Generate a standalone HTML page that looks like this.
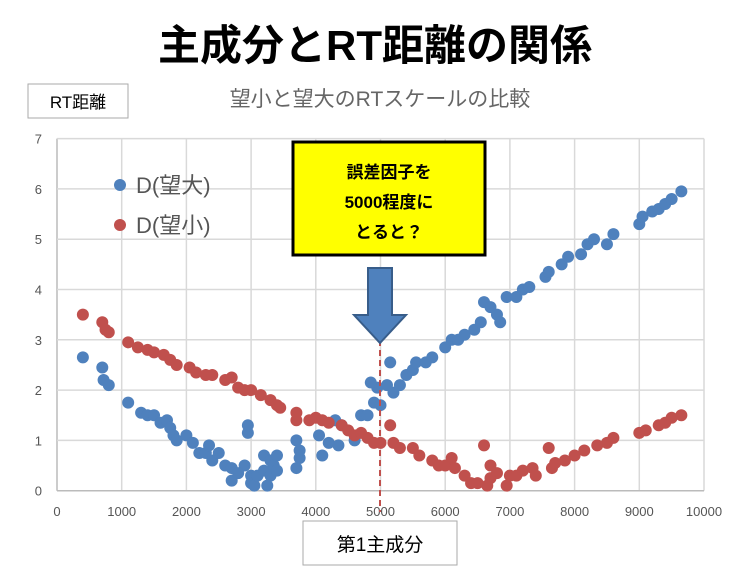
<!DOCTYPE html>
<html><head><meta charset="utf-8"><style>
body{margin:0;background:#fff;width:749px;height:574px;overflow:hidden;font-family:"Liberation Sans","Noto Sans CJK JP",sans-serif}
</style></head><body>
<svg width="749" height="574" xmlns="http://www.w3.org/2000/svg" font-family="Liberation Sans, Noto Sans CJK JP, sans-serif">
<text x="375" y="60" font-size="42" font-weight="bold" text-anchor="middle" fill="#000">主成分とRT距離の関係</text>
<rect x="28" y="84" width="100" height="34" fill="#fff" stroke="#aaa"/>
<text x="78" y="108" font-size="17" text-anchor="middle">RT距離</text>
<text x="380" y="106" font-size="21" text-anchor="middle" fill="#666">望小と望大のRTスケールの比較</text>
<g id="grid"></g>
<g id="marks"></g>
<g>
<circle cx="120" cy="185" r="6" fill="#4F81BD"/><text x="136" y="193" font-size="22" fill="#555">D(望大)</text>
<circle cx="120" cy="225" r="6" fill="#C0504D"/><text x="136" y="233" font-size="22" fill="#555">D(望小)</text>
</g>
<line x1="380" y1="340" x2="380" y2="512" stroke="#C0504D" stroke-width="2" stroke-dasharray="6,4"/>
<rect x="293" y="142" width="192" height="113" fill="#FFFF00" stroke="#000" stroke-width="3"/>
<text x="389" y="178" font-size="17" font-weight="bold" text-anchor="middle">誤差因子を</text>
<text x="389" y="208" font-size="17" font-weight="bold" text-anchor="middle">5000程度に</text>
<text x="389" y="238" font-size="17" font-weight="bold" text-anchor="middle">とると？</text>
<path d="M368,268 H392 V315 H406 L380,343 L354,315 H368 Z" fill="#4F81BD" stroke="#385D8A" stroke-width="2"/>
<rect x="303" y="521" width="154" height="44" fill="#fff" stroke="#aaa"/>
<text x="380" y="551" font-size="19" text-anchor="middle">第1主成分</text>
</svg>
<script>
const xTicks=[0,1000,2000,3000,4000,5000,6000,7000,8000,9000,10000];
const yTicks=[0,1,2,3,4,5,6,7];
const bigX=[400,700,720,800,1100,1300,1400,1500,1600,1700,1750,1800,1850,2000,2100,2200,2300,2350,2400,2500,2600,2700,2700,2900,2800,3000,3000,3050,3100,3200,2950,2950,3200,3300,3300,3350,3400,3400,3250,3700,3700,3750,3750,4050,4100,4200,4350,4300,4400,4600,4700,4800,4900,4950,4850,5000,5100,5200,5150,5300,5400,5500,5550,5700,5800,6000,6100,6200,6300,6450,6550,6600,6700,6800,6850,6950,7100,7200,7300,7550,7600,7800,7900,8100,8200,8300,8500,8600,9000,9050,9200,9300,9400,9500,9650];
const bigY=[2.65,2.45,2.2,2.1,1.75,1.55,1.5,1.5,1.35,1.4,1.25,1.1,1.0,1.1,0.95,0.75,0.75,0.9,0.6,0.75,0.5,0.45,0.2,0.5,0.35,0.3,0.15,0.1,0.3,0.4,1.15,1.3,0.7,0.6,0.3,0.5,0.7,0.4,0.1,1.0,0.45,0.65,0.8,1.1,0.7,0.95,0.9,1.4,1.3,1.0,1.5,1.5,1.75,2.05,2.15,1.7,2.1,1.95,2.55,2.1,2.3,2.4,2.55,2.55,2.65,2.85,3.0,3.0,3.1,3.2,3.35,3.75,3.65,3.5,3.35,3.85,3.85,4.0,4.05,4.25,4.35,4.5,4.65,4.7,4.9,5.0,4.9,5.1,5.3,5.45,5.55,5.6,5.7,5.8,5.95];
const smallX=[400,700,750,800,1100,1250,1400,1500,1650,1750,1850,2050,2150,2300,2400,2600,2700,2800,2900,3000,3150,3300,3400,3450,3700,3700,3900,4000,4100,4200,4400,4500,4600,4700,4800,4900,5000,5150,5200,5300,5500,5600,5800,5900,6000,6100,6150,6300,6400,6500,6650,6600,6700,6800,6700,6950,7000,7100,7200,7350,7400,7600,7650,7700,7850,8000,8150,8350,8500,8600,9000,9100,9300,9400,9500,9650];
const smallY=[3.5,3.35,3.2,3.15,2.95,2.85,2.8,2.75,2.7,2.6,2.5,2.45,2.35,2.3,2.3,2.2,2.25,2.05,2.0,2.0,1.9,1.8,1.7,1.65,1.55,1.4,1.4,1.45,1.4,1.35,1.3,1.2,1.1,1.15,1.05,0.95,0.95,1.3,0.95,0.85,0.85,0.7,0.6,0.5,0.5,0.65,0.45,0.3,0.15,0.15,0.1,0.9,0.25,0.35,0.5,0.1,0.3,0.3,0.4,0.45,0.3,0.85,0.45,0.55,0.6,0.7,0.8,0.9,0.95,1.05,1.15,1.2,1.3,1.35,1.45,1.5];
const NS='http://www.w3.org/2000/svg';
const sx=v=>57+v*0.0647;
const sy=v=>490.7-v*50.3;
const grid=document.getElementById('grid'),marks=document.getElementById('marks');
function mk(tag,a,p){const e=document.createElementNS(NS,tag);for(const k in a)e.setAttribute(k,a[k]);p.appendChild(e);return e;}
xTicks.forEach(t=>{
 const l=mk('line',{x1:sx(t),x2:sx(t),y1:sy(7),y2:sy(0),stroke:t===0?'#bbb':'#d9d9d9','stroke-width':1.5},grid);
 
 
 const tx=mk('text',{x:sx(t),y:516,'font-size':13,'text-anchor':'middle',fill:'#555'},grid);tx.textContent=t;
 
 
});
yTicks.forEach(t=>{
 const l=mk('line',{x1:sx(0),x2:sx(10000),y1:sy(t),y2:sy(t),stroke:t===0?'#bbb':'#d9d9d9','stroke-width':1.5},grid);
 
 
 const tx=mk('text',{x:42,y:sy(t)+5,'font-size':13,'text-anchor':'end',fill:'#555'},grid);tx.textContent=t;
 
 
});
bigX.forEach((x,i)=>{const c=mk('circle',{cx:sx(x),cy:sy(bigY[i]),r:6,fill:'#4F81BD'},marks);
 
 });
smallX.forEach((x,i)=>{const c=mk('circle',{cx:sx(x),cy:sy(smallY[i]),r:6,fill:'#C0504D'},marks);
 
 });
</script>
</body></html>
